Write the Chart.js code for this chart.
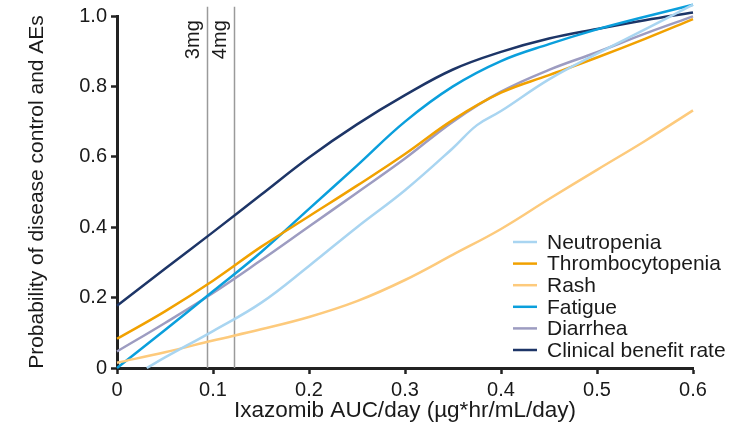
<!DOCTYPE html>
<html>
<head>
<meta charset="utf-8">
<script src="https://cdn.jsdelivr.net/npm/chart.js@4.4.1/dist/chart.umd.min.js"></script>
<style>
    html, body { margin: 0; padding: 0; background: #fff; }
    #wrap { width: 752px; height: 426px; }
</style>
</head>
<body>
<div id="wrap"><canvas id="aucChart" width="752" height="426"></canvas></div>
<script>
// AUC grid (µg*hr/mL/day) shared by most curves
const auc = [0, 0.05, 0.1, 0.15, 0.2, 0.25, 0.3, 0.35, 0.4, 0.45, 0.5, 0.55, 0.6];
const thrombocytopenia = [0.083, 0.161, 0.248, 0.344, 0.431, 0.518, 0.608, 0.705, 0.782, 0.832, 0.882, 0.935, 0.991];
const rash = [0.015, 0.045, 0.078, 0.11, 0.145, 0.19, 0.25, 0.322, 0.395, 0.48, 0.563, 0.645, 0.732];
const fatigue = [0.0, 0.108, 0.218, 0.329, 0.452, 0.575, 0.70, 0.80, 0.872, 0.92, 0.962, 0.998, 1.032];
const diarrhea = [0.047, 0.128, 0.213, 0.306, 0.402, 0.498, 0.595, 0.70, 0.785, 0.847, 0.897, 0.95, 0.999];
const clinicalBenefit = [0.177, 0.282, 0.386, 0.492, 0.598, 0.692, 0.775, 0.848, 0.898, 0.936, 0.963, 0.988, 1.01];
// Neutropenia leaves the axis later and has a bend near 0.375
const neutropeniaAuc = [0.031, 0.05, 0.1, 0.15, 0.2, 0.25, 0.3, 0.35, 0.375, 0.4, 0.45, 0.5, 0.55, 0.6];
const neutropenia = [0, 0.03, 0.105, 0.185, 0.29, 0.40, 0.505, 0.625, 0.69, 0.73, 0.82, 0.893, 0.962, 1.032];

const doseLabels = ['3mg', '4mg'];
const doseAuc = [0.0934, 0.1215];
const xTicks = [0, 0.1, 0.2, 0.3, 0.4, 0.5, 0.6];
const yTicks = [0, 0.2, 0.4, 0.6, 0.8, 1.0];

const FONT = "'Liberation Sans', Arial, sans-serif";

function toPoints(xs, ys) {
    return xs.map((x, i) => ({ x: x, y: ys[i] }));
}

function fmtTick(v) {
    return v === 0 ? '0' : Number(v).toFixed(1);
}

const series = [
    { label: 'Neutropenia', xs: neutropeniaAuc, ys: neutropenia, color: '#a9d5f1' },
    { label: 'Thrombocytopenia', xs: auc, ys: thrombocytopenia, color: '#f1a100' },
    { label: 'Rash', xs: auc, ys: rash, color: '#fdca7c' },
    { label: 'Fatigue', xs: auc, ys: fatigue, color: '#0a9fdc' },
    { label: 'Diarrhea', xs: auc, ys: diarrhea, color: '#9d9cc1' },
    { label: 'Clinical benefit rate', xs: auc, ys: clinicalBenefit, color: '#1d3567' }
];

// dose reference lines + their rotated labels
const doseLinesPlugin = {
    id: 'doseLines',
    beforeDatasetsDraw(chart) {
        const ctx = chart.ctx;
        const xs = chart.scales.x, ys = chart.scales.y;
        const y0 = ys.getPixelForValue(0);
        const yTop = ys.getPixelForValue(1.026);
        ctx.save();
        doseAuc.forEach((d, i) => {
            const px = Math.round(xs.getPixelForValue(d)) + 0.5;
            ctx.strokeStyle = '#9a9a9a';
            ctx.lineWidth = 1.5;
            ctx.beginPath();
            ctx.moveTo(px, y0);
            ctx.lineTo(px, yTop);
            ctx.stroke();
            ctx.save();
            ctx.translate(px - 9, ys.getPixelForValue(0.988));
            ctx.rotate(-Math.PI / 2);
            ctx.fillStyle = '#1a1a1a';
            ctx.font = '20px ' + FONT;
            ctx.textAlign = 'right';
            ctx.textBaseline = 'alphabetic';
            ctx.fillText(doseLabels[i], 0, 0);
            ctx.restore();
        });
        ctx.restore();
    }
};

// legend sits inside the plot, lower right
const insideLegendPlugin = {
    id: 'insideLegend',
    afterDraw(chart) {
        const ctx = chart.ctx;
        const left = 513, rowH = 21.6, firstY = 242;
        ctx.save();
        ctx.font = '21px ' + FONT;
        ctx.textBaseline = 'middle';
        ctx.textAlign = 'left';
        chart.data.datasets.forEach((ds, i) => {
            const y = firstY + i * rowH;
            ctx.strokeStyle = ds.borderColor;
            ctx.lineWidth = 2.5;
            ctx.beginPath();
            ctx.moveTo(left, y);
            ctx.lineTo(left + 24, y);
            ctx.stroke();
            ctx.fillStyle = '#1a1a1a';
            ctx.fillText(ds.label, left + 34, y + 1);
        });
        ctx.restore();
    }
};

const chart = new Chart(document.getElementById('aucChart'), {
    type: 'line',
    data: {
        datasets: series.map(s => ({
            label: s.label,
            data: toPoints(s.xs, s.ys),
            borderColor: s.color,
            backgroundColor: s.color,
            borderWidth: 2.5,
            pointRadius: 0,
            tension: 0.4,
            clip: false,
            fill: false
        }))
    },
    options: {
        responsive: false,
        animation: false,
        layout: { padding: { left: 0, right: 59, top: 16, bottom: 0 } },
        plugins: {
            legend: { display: false },
            tooltip: { enabled: false }
        },
        scales: {
            x: {
                type: 'linear',
                min: 0,
                max: 0.6,
                afterFit(scale) { scale.height = 58; },
                afterBuildTicks(scale) { scale.ticks = xTicks.map(v => ({ value: v })); },
                ticks: {
                    callback: fmtTick,
                    color: '#1a1a1a',
                    font: { family: FONT, size: 20 },
                    padding: 4,
                    maxRotation: 0
                },
                grid: {
                    drawOnChartArea: false,
                    drawTicks: true,
                    tickLength: 6,
                    tickWidth: 2.5,
                    tickColor: '#222'
                },
                border: { display: true, color: '#222', width: 3 },
                title: {
                    display: true,
                    text: 'Ixazomib AUC/day (µg*hr/mL/day)',
                    color: '#1a1a1a',
                    font: { family: FONT, size: 22.5 },
                    padding: { top: 0, bottom: 2 }
                }
            },
            y: {
                min: 0,
                max: 1,
                afterFit(scale) { scale.width = 117; },
                afterBuildTicks(scale) { scale.ticks = yTicks.map(v => ({ value: v })); },
                ticks: {
                    callback: fmtTick,
                    color: '#1a1a1a',
                    font: { family: FONT, size: 20 },
                    padding: 4
                },
                grid: {
                    drawOnChartArea: false,
                    drawTicks: true,
                    tickLength: 6,
                    tickWidth: 2.5,
                    tickColor: '#222'
                },
                border: { display: true, color: '#222', width: 3 },
                title: {
                    display: true,
                    text: 'Probability of disease control and AEs',
                    color: '#1a1a1a',
                    font: { family: FONT, size: 21 },
                    padding: { top: 25, bottom: 0 }
                }
            }
        }
    },
    plugins: [doseLinesPlugin, insideLegendPlugin]
});
</script>
</body>
</html>
